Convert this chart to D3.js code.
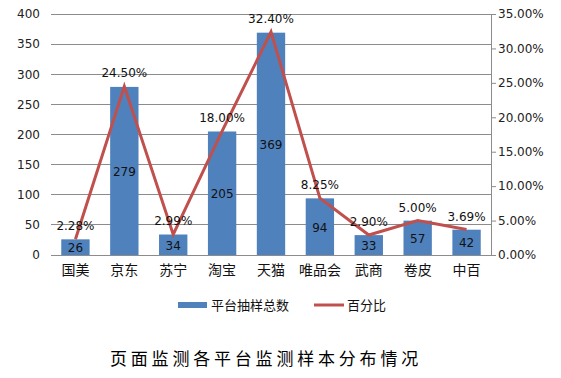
<!DOCTYPE html>
<html>
<head>
<meta charset="utf-8">
<script src="https://cdn.jsdelivr.net/npm/d3@7"></script>
<style>
body { margin:0; background:#fff; }
svg { display:block; }
</style>
</head>
<body>
<script>
// data
var categories = ["国美","京东","苏宁","淘宝","天猫","唯品会","武商","卷皮","中百"];
var counts = [26, 279, 34, 205, 369, 94, 33, 57, 42];
var percents = [2.28, 24.50, 2.99, 18.00, 32.40, 8.25, 2.90, 5.00, 3.69];
var leftTicks = [0, 50, 100, 150, 200, 250, 300, 350, 400];
var rightTicks = [0, 5, 10, 15, 20, 25, 30, 35];
var legendNames = ["平台抽样总数", "百分比"];
var title = "页面监测各平台监测样本分布情况";

var W = 561, H = 378;
var margin = {top:14, right:70, bottom:123, left:51},
    width = W - margin.left - margin.right,
    height = H - margin.top - margin.bottom;

var blue = "#4f81bd", red = "#c0504d";

var svg = d3.select("body").append("svg")
  .attr("width", W).attr("height", H);
var g = svg.append("g")
  .attr("transform", "translate(" + margin.left + "," + margin.top + ")");

var x = d3.scaleBand().domain(categories).range([0, width]).paddingInner(0.42).paddingOuter(0.21);
var y = d3.scaleLinear().domain([0, 400]).range([height, 0]);
var y2 = d3.scaleLinear().domain([0, 35]).range([height, 0]);

// gridlines
g.selectAll(".grid").data(leftTicks).enter().append("line")
  .attr("x1", 0).attr("x2", width)
  .attr("y1", function(d){ return y(d); }).attr("y2", function(d){ return y(d); })
  .attr("stroke", "#8c8c8c").attr("stroke-width", 1)
  .attr("shape-rendering", "crispEdges");

// left axis labels
var yAxis = d3.axisLeft(y).tickValues(leftTicks).tickSize(0).tickPadding(11);
var ya = g.append("g").call(yAxis);
ya.select(".domain").remove();
ya.selectAll("text").attr("font-family", "DejaVu Sans, sans-serif").attr("font-size", 12).attr("fill", "#222");

// right axis
var y2Axis = d3.axisRight(y2).tickValues(rightTicks).tickSize(5).tickPadding(2)
  .tickFormat(function(d){ return d.toFixed(2) + "%"; });
var ya2 = g.append("g").attr("transform", "translate(" + width + ",0)").call(y2Axis);
ya2.select(".domain").attr("stroke", "#8c8c8c").attr("d", "M0.5,0V" + height);
ya2.selectAll("line").attr("stroke", "#8c8c8c");
ya2.selectAll("text").attr("font-family", "DejaVu Sans, sans-serif").attr("font-size", 12).attr("fill", "#222");

// bottom axis
var xAxis = d3.axisBottom(x).tickSize(0).tickPadding(10);
var xa = g.append("g").attr("transform", "translate(0," + height + ")").call(xAxis);
xa.select(".domain").attr("stroke", "#8c8c8c").attr("d", "M0,0.5H" + width);
xa.selectAll("text").attr("font-family", "Noto Sans CJK SC, sans-serif").attr("font-size", 14).attr("fill", "#111");

// bars
g.selectAll(".bar").data(counts).enter().append("rect")
  .attr("x", function(d, i){ return x(categories[i]); })
  .attr("y", function(d){ return y(d); })
  .attr("width", x.bandwidth())
  .attr("height", function(d){ return height - y(d); })
  .attr("fill", blue);

// bar labels
g.selectAll(".blab").data(counts).enter().append("text")
  .attr("x", function(d, i){ return x(categories[i]) + x.bandwidth() / 2; })
  .attr("y", function(d){ return (y(d) + height) / 2 + 5; })
  .attr("text-anchor", "middle")
  .attr("font-family", "DejaVu Sans, sans-serif").attr("font-size", 12).attr("fill", "#111")
  .text(function(d){ return d; });

// line
var line = d3.line()
  .x(function(d, i){ return x(categories[i]) + x.bandwidth() / 2; })
  .y(function(d){ return y2(d); });
g.append("path").datum(percents)
  .attr("d", line).attr("fill", "none")
  .attr("stroke", red).attr("stroke-width", 3).attr("stroke-linejoin", "miter");

g.selectAll(".plab").data(percents).enter().append("text")
  .attr("x", function(d, i){ return x(categories[i]) + x.bandwidth() / 2; })
  .attr("y", function(d){ return y2(d) - 9; })
  .attr("text-anchor", "middle")
  .attr("font-family", "DejaVu Sans, sans-serif").attr("font-size", 12).attr("fill", "#111")
  .text(function(d){ return d.toFixed(2) + "%"; });

// legend
var leg = svg.append("g").attr("font-family", "Noto Sans CJK SC, sans-serif").attr("font-size", 13).attr("fill", "#111");
leg.append("rect").attr("x", 178).attr("y", 302).attr("width", 29).attr("height", 6).attr("fill", blue);
leg.append("text").attr("x", 211).attr("y", 310).text(legendNames[0]);
leg.append("line").attr("x1", 314).attr("x2", 344).attr("y1", 305).attr("y2", 305)
  .attr("stroke", red).attr("stroke-width", 3);
leg.append("text").attr("x", 347).attr("y", 310).text(legendNames[1]);

// title
svg.append("text").attr("x", 110).attr("y", 365)
  .attr("font-family", "Noto Sans CJK SC, sans-serif").attr("font-size", 17)
  .attr("letter-spacing", 3.8).attr("fill", "#000")
  .text(title);
</script>
</body>
</html>
